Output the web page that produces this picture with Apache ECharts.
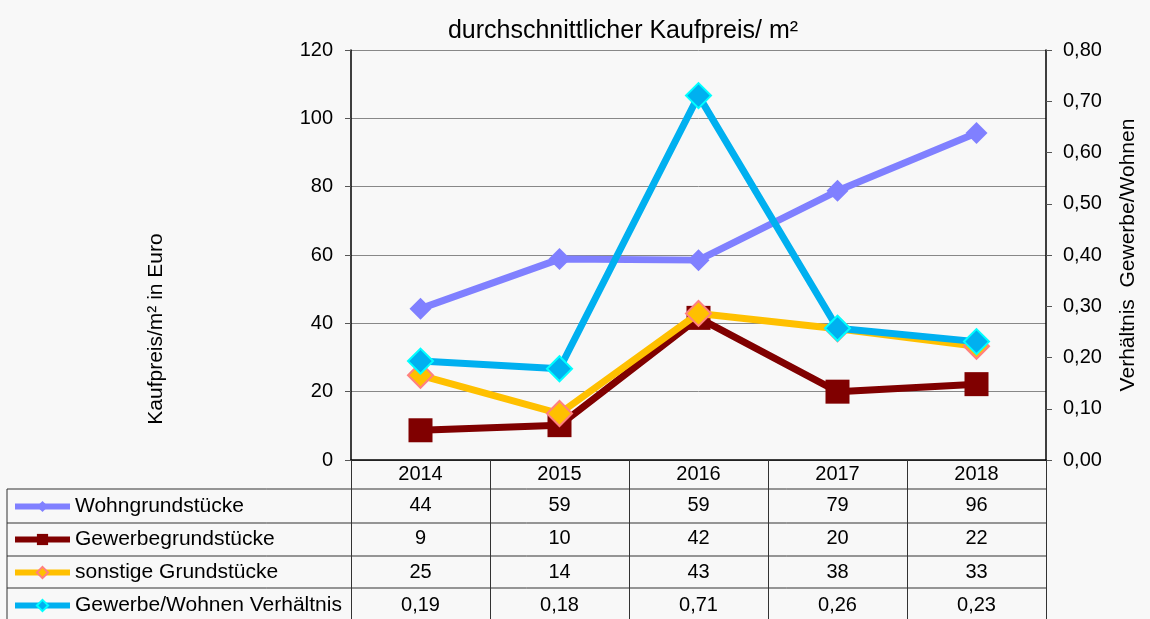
<!DOCTYPE html>
<html>
<head>
<meta charset="utf-8">
<script src="https://cdn.jsdelivr.net/npm/echarts@6/dist/echarts.min.js"></script>
<style>
  html, body { margin: 0; padding: 0; background: #f8f8f8; }
  #chart { width: 1150px; height: 619px; }
</style>
</head>
<body>
<div id="chart"></div>
<script>
// data
var years = ["2014", "2015", "2016", "2017", "2018"];
var wohn = [44.3, 58.8, 58.5, 78.8, 95.7];
var gewerbe = [8.7, 10.2, 41.6, 20.0, 22.2];
var sonstige = [24.8, 13.6, 42.9, 38.4, 33.3];
var verhaeltnis = [0.193, 0.178, 0.711, 0.257, 0.231];

var names = ["Wohngrundstücke", "Gewerbegrundstücke", "sonstige Grundstücke", "Gewerbe/Wohnen Verhältnis"];
var leftTicks = { min: 0, max: 120, interval: 20 };
var rightTicks = { min: 0, max: 0.8, interval: 0.1 };

function komma(v) {
  return v.toFixed(2).replace(".", ",");
}

var font = "Liberation Sans, Arial, sans-serif";
var tableLeft = 7, tableRight = 1046;
var rowLines = [489, 523, 556, 588];

var chart = echarts.init(document.getElementById("chart"));

var option = {
  backgroundColor: "#f8f8f8",
  animation: false,
  textStyle: { fontFamily: font, color: "#000" },
  title: {
    text: "durchschnittlicher Kaufpreis/ m²",
    left: 618,
    textAlign: "center",
    top: 14,
    textStyle: { fontSize: 25, fontWeight: "normal", color: "#000", fontFamily: font }
  },
  legend: {
    orient: "vertical",
    left: 12,
    top: 496,
    padding: 0,
    itemWidth: 55,
    itemHeight: 14,
    itemGap: 12,
    lineStyle: { width: 6 },
    textStyle: { fontSize: 21, color: "#000", fontFamily: font },
    data: names
  },
  grid: {
    left: 351,
    right: 104,
    top: 50,
    height: 410,
    containLabel: false
  },
  xAxis: {
    type: "category",
    data: years,
    boundaryGap: true,
    axisLine: { lineStyle: { color: "#000", width: 1.5 } },
    axisTick: { show: true, length: 159, lineStyle: { color: "#333" } },
    axisLabel: {
      margin: 0,
      interval: 0,
      formatter: function (val, i) {
        return "{h|" + val + "}\n{v|" + Math.round(wohn[i]) + "}\n{v|" +
          Math.round(gewerbe[i]) + "}\n{v|" + Math.round(sonstige[i]) + "}\n{v|" +
          komma(verhaeltnis[i]) + "}";
      },
      rich: {
        h: { fontSize: 20, lineHeight: 29, color: "#000", fontFamily: font },
        v: { fontSize: 20, lineHeight: 33.3, color: "#000", fontFamily: font }
      }
    }
  },
  yAxis: [
    {
      type: "value",
      min: leftTicks.min,
      max: leftTicks.max,
      interval: leftTicks.interval,
      axisLine: { show: true, lineStyle: { color: "#000", width: 1.5 } },
      axisTick: { show: true, length: 6, lineStyle: { color: "#555" } },
      axisLabel: { fontSize: 20, color: "#000", margin: 18, fontFamily: font },
      splitLine: { lineStyle: { color: "#888", width: 1 } }
    },
    {
      type: "value",
      min: rightTicks.min,
      max: rightTicks.max,
      interval: rightTicks.interval,
      position: "right",
      name: "Verhältnis  Gewerbe/Wohnen",
      nameLocation: "middle",
      nameRotate: 90,
      nameGap: 72,
      nameTextStyle: { fontSize: 21, color: "#000", fontFamily: font },
      axisLine: { show: true, lineStyle: { color: "#000", width: 1.5 } },
      axisTick: { show: true, length: 6, lineStyle: { color: "#555" } },
      axisLabel: { fontSize: 20, color: "#000", margin: 17, fontFamily: font, formatter: komma },
      splitLine: { show: false }
    }
  ],
  graphic: [
    {
      type: "text",
      x: 156, y: 329, rotation: Math.PI / 2,
      style: { text: "Kaufpreis/m² in Euro", fontSize: 21, fill: "#000", fontFamily: font, align: "center", verticalAlign: "middle" }
    },
    {
      type: "line",
      shape: { x1: tableLeft, y1: rowLines[0], x2: tableLeft, y2: 619 },
      style: { stroke: "#333", lineWidth: 1 }
    }
  ].concat(rowLines.map(function (y) {
    return {
      type: "line",
      shape: { x1: tableLeft, y1: y, x2: tableRight, y2: y },
      style: { stroke: "#333", lineWidth: 1 }
    };
  })),
  series: [
    {
      name: names[0],
      type: "line",
      data: wohn,
      yAxisIndex: 0,
      symbol: "diamond",
      symbolSize: 22,
      lineStyle: { color: "#8080ff", width: 7 },
      itemStyle: { color: "#8080ff" },
      z: 2
    },
    {
      name: names[1],
      type: "line",
      data: gewerbe,
      yAxisIndex: 0,
      symbol: "rect",
      symbolSize: 24,
      lineStyle: { color: "#800000", width: 7 },
      itemStyle: { color: "#800000" },
      z: 3
    },
    {
      name: names[2],
      type: "line",
      data: sonstige,
      yAxisIndex: 0,
      symbol: "diamond",
      symbolSize: 25,
      lineStyle: { color: "#ffc000", width: 7 },
      itemStyle: { color: "#ffc000", borderColor: "#ff8080", borderWidth: 2 },
      z: 4
    },
    {
      name: names[3],
      type: "line",
      data: verhaeltnis,
      yAxisIndex: 1,
      symbol: "diamond",
      symbolSize: 25,
      lineStyle: { color: "#00b0f0", width: 7 },
      itemStyle: { color: "#00b0f0", borderColor: "#00ffff", borderWidth: 2 },
      z: 5
    }
  ]
};

chart.setOption(option);
</script>
</body>
</html>
